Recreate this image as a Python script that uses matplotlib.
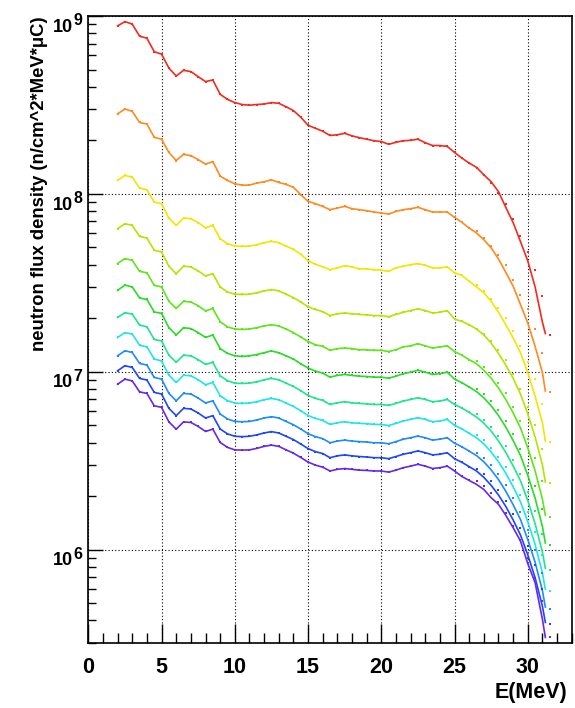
import numpy as np
import matplotlib
matplotlib.use("Agg")
import matplotlib.pyplot as plt
import matplotlib.transforms as mtransforms
from matplotlib.ticker import FixedLocator, NullFormatter

plt.rcParams['font.family'] = ['Liberation Sans', 'DejaVu Sans']
plt.rcParams['font.weight'] = 'bold'

# ---------------- data ----------------
E_line = list(np.arange(2.0, 31.01, 0.5)) + [31.2]   # line vertices
E_pts = list(np.arange(2.0, 31.51, 0.5))              # marker positions

red_line = [8.80e8, 9.30e8, 9.00e8, 7.70e8, 7.50e8, 6.30e8, 6.10e8, 5.10e8, 4.60e8, 4.95e8,
            4.87e8, 4.56e8, 4.28e8, 4.37e8, 3.63e8, 3.40e8, 3.26e8, 3.18e8, 3.15e8, 3.18e8,
            3.20e8, 3.26e8, 3.23e8, 3.09e8, 2.94e8, 2.70e8, 2.43e8, 2.34e8, 2.25e8, 2.13e8,
            2.15e8, 2.19e8, 2.12e8, 2.07e8, 2.03e8, 1.99e8, 1.97e8, 1.90e8, 1.95e8, 1.99e8,
            2.00e8, 2.03e8, 1.94e8, 1.87e8, 1.87e8, 1.85e8, 1.71e8, 1.59e8, 1.49e8,
            1.41e8, 1.28e8, 1.17e8, 1.03e8, 8.4e7, 6.9e7, 5.4e7, 4.2e7, 3.0e7, 1.9e7,
            1.64e7]
red_tail = [1.40e8, 1.28e8, 1.15e8, 1.01e8, 8.73e7, 7.26e7, 5.77e7, 4.69e7, 3.72e7, 2.68e7, 1.61e7]

orange_line = [2.82e8, 3.00e8, 2.91e8, 2.52e8, 2.47e8, 2.08e8, 2.03e8, 1.71e8, 1.54e8, 1.67e8,
               1.64e8, 1.56e8, 1.47e8, 1.52e8, 1.26e8, 1.19e8, 1.14e8, 1.12e8, 1.12e8, 1.15e8,
               1.17e8, 1.20e8, 1.16e8, 1.13e8, 1.09e8, 9.9e7, 9.08e7, 8.81e7, 8.51e7, 8.15e7,
               8.33e7, 8.51e7, 8.26e7, 8.15e7, 8.05e7, 7.91e7, 7.81e7, 7.71e7, 7.97e7, 8.15e7,
               8.26e7, 8.40e7, 8.15e7, 7.91e7, 7.91e7, 7.91e7, 7.38e7, 6.92e7, 6.43e7,
               6.03e7, 5.53e7, 4.97e7, 4.31e7, 3.62e7, 3.03e7, 2.39e7, 1.88e7, 1.39e7, 9.9e6,
               7.8e6]
orange_tail = [6.15e7, 5.65e7, 5.12e7, 4.56e7, 3.97e7, 3.30e7, 2.69e7, 2.24e7, 1.75e7, 1.27e7, 7.68e6]

yellow_line = [1.19e8, 1.27e8, 1.242e8, 1.077e8, 1.056e8, 8.99e7, 8.81e7, 7.31e7, 6.65e7, 7.31e7,
               7.26e7, 6.89e7, 6.46e7, 6.65e7, 5.60e7, 5.25e7, 5.09e7, 5.07e7, 5.09e7, 5.18e7,
               5.32e7, 5.41e7, 5.32e7, 5.09e7, 4.88e7, 4.58e7, 4.22e7, 4.02e7, 3.90e7, 3.75e7,
               3.84e7, 3.95e7, 3.89e7, 3.79e7, 3.79e7, 3.75e7, 3.72e7, 3.67e7, 3.84e7, 3.92e7,
               4.00e7, 4.06e7, 3.97e7, 3.84e7, 3.84e7, 3.89e7, 3.60e7, 3.48e7, 3.23e7,
               3.00e7, 2.78e7, 2.49e7, 2.16e7, 1.84e7, 1.55e7, 1.28e7, 9.9e6, 7.3e6, 5.17e6,
               4.07e6]
yellow_tail = [3.06e7, 2.83e7, 2.57e7, 2.29e7, 2.01e7, 1.69e7, 1.39e7, 1.14e7, 9.06e6, 6.61e6, 4.03e6]

ygreen_line = [6.38e7, 6.80e7, 6.65e7, 5.77e7, 5.65e7, 4.82e7, 4.72e7, 3.92e7, 3.56e7, 3.92e7,
               3.89e7, 3.69e7, 3.46e7, 3.56e7, 3.00e7, 2.81e7, 2.73e7, 2.72e7, 2.73e7, 2.78e7,
               2.85e7, 2.90e7, 2.85e7, 2.73e7, 2.61e7, 2.47e7, 2.32e7, 2.24e7, 2.18e7, 2.07e7,
               2.12e7, 2.14e7, 2.12e7, 2.10e7, 2.09e7, 2.07e7, 2.07e7, 2.04e7, 2.10e7, 2.16e7,
               2.21e7, 2.26e7, 2.21e7, 2.14e7, 2.16e7, 2.21e7, 1.98e7, 1.92e7, 1.84e7,
               1.74e7, 1.61e7, 1.45e7, 1.27e7, 1.09e7, 9.2e6, 7.5e6, 5.8e6, 4.3e6, 3.0e6,
               2.4e6]
ygreen_tail = [1.75e7, 1.63e7, 1.49e7, 1.33e7, 1.17e7, 9.7e6, 8.0e6, 6.3e6, 5.0e6, 3.7e6, 2.38e6]

lime_line = [4.06e7, 4.33e7, 4.23e7, 3.67e7, 3.60e7, 3.06e7, 3.00e7, 2.49e7, 2.27e7, 2.49e7,
             2.47e7, 2.35e7, 2.20e7, 2.27e7, 1.91e7, 1.79e7, 1.74e7, 1.73e7, 1.74e7, 1.77e7,
             1.81e7, 1.84e7, 1.81e7, 1.74e7, 1.66e7, 1.57e7, 1.48e7, 1.42e7, 1.39e7, 1.32e7,
             1.35e7, 1.36e7, 1.35e7, 1.33e7, 1.33e7, 1.32e7, 1.32e7, 1.30e7, 1.33e7, 1.38e7,
             1.40e7, 1.44e7, 1.40e7, 1.36e7, 1.38e7, 1.40e7, 1.30e7, 1.24e7, 1.17e7,
             1.11e7, 1.02e7, 9.20e6, 8.11e6, 6.98e6, 5.88e6, 4.84e6, 3.74e6, 2.78e6, 1.92e6,
             1.56e6]
lime_tail = [1.145e7, 1.069e7, 9.75e6, 8.68e6, 7.57e6, 6.37e6, 5.29e6, 4.21e6, 3.26e6, 2.42e6, 1.52e6]

green_line = [2.87e7, 3.07e7, 3.00e7, 2.60e7, 2.55e7, 2.17e7, 2.13e7, 1.77e7, 1.61e7, 1.77e7,
              1.75e7, 1.66e7, 1.56e7, 1.61e7, 1.35e7, 1.27e7, 1.23e7, 1.22e7, 1.23e7, 1.25e7,
              1.28e7, 1.31e7, 1.28e7, 1.23e7, 1.18e7, 1.11e7, 1.05e7, 1.01e7, 9.83e6, 9.33e6,
              9.54e6, 9.66e6, 9.54e6, 9.45e6, 9.41e6, 9.33e6, 9.33e6, 9.20e6, 9.45e6, 9.76e6,
              9.95e6, 1.02e7, 9.95e6, 9.66e6, 9.76e6, 9.95e6, 9.10e6, 8.69e6, 8.21e6,
              7.74e6, 7.14e6, 6.44e6, 5.68e6, 4.89e6, 4.11e6, 3.39e6, 2.62e6, 1.95e6, 1.35e6,
              1.09e6]
green_tail = [8.02e6, 7.48e6, 6.83e6, 6.08e6, 5.30e6, 4.46e6, 3.70e6, 2.95e6, 2.28e6, 1.69e6, 1.06e6]

spring_line = [2.02e7, 2.15e7, 2.11e7, 1.83e7, 1.79e7, 1.52e7, 1.49e7, 1.24e7, 1.13e7, 1.24e7,
               1.23e7, 1.17e7, 1.10e7, 1.13e7, 9.50e6, 8.91e6, 8.63e6, 8.60e6, 8.63e6, 8.79e6,
               9.02e6, 9.18e6, 9.02e6, 8.63e6, 8.27e6, 7.83e6, 7.36e6, 7.09e6, 6.91e6, 6.55e6,
               6.70e6, 6.79e6, 6.70e6, 6.64e6, 6.61e6, 6.55e6, 6.55e6, 6.47e6, 6.64e6, 6.85e6,
               6.99e6, 7.15e6, 6.99e6, 6.79e6, 6.85e6, 6.99e6, 6.55e6, 6.26e6, 5.91e6,
               5.57e6, 5.14e6, 4.64e6, 4.09e6, 3.52e6, 2.96e6, 2.44e6, 1.89e6, 1.40e6, 9.69e5,
               7.86e5]
spring_tail = [5.77e6, 5.38e6, 4.91e6, 4.38e6, 3.81e6, 3.21e6, 2.67e6, 2.12e6, 1.64e6, 1.22e6, 7.66e5]

cyan_line = [1.56e7, 1.66e7, 1.63e7, 1.41e7, 1.38e7, 1.18e7, 1.15e7, 9.57e6, 8.71e6, 9.57e6,
             9.50e6, 9.02e6, 8.46e6, 8.71e6, 7.34e6, 6.88e6, 6.67e6, 6.64e6, 6.67e6, 6.79e6,
             6.97e6, 7.08e6, 6.97e6, 6.67e6, 6.39e6, 6.04e6, 5.68e6, 5.47e6, 5.33e6, 5.06e6,
             5.17e6, 5.24e6, 5.17e6, 5.13e6, 5.11e6, 5.06e6, 5.06e6, 4.99e6, 5.13e6, 5.29e6,
             5.40e6, 5.52e6, 5.40e6, 5.24e6, 5.29e6, 5.40e6, 5.00e6, 4.78e6, 4.51e6,
             4.26e6, 3.93e6, 3.54e6, 3.12e6, 2.69e6, 2.26e6, 1.86e6, 1.44e6, 1.07e6, 7.40e5,
             6.00e5]
cyan_tail = [4.41e6, 4.11e6, 3.75e6, 3.34e6, 2.91e6, 2.45e6, 2.04e6, 1.62e6, 1.26e6, 9.30e5, 5.85e5]

azure_line = [1.230e7, 1.313e7, 1.284e7, 1.114e7, 1.091e7, 9.29e6, 9.10e6, 7.56e6, 6.87e6, 7.56e6,
              7.50e6, 7.12e6, 6.68e6, 6.87e6, 5.79e6, 5.43e6, 5.26e6, 5.24e6, 5.26e6, 5.36e6,
              5.50e6, 5.59e6, 5.50e6, 5.26e6, 5.04e6, 4.77e6, 4.49e6, 4.32e6, 4.21e6, 3.99e6,
              4.08e6, 4.13e6, 4.08e6, 4.05e6, 4.03e6, 3.99e6, 3.99e6, 3.94e6, 4.05e6, 4.18e6,
              4.26e6, 4.35e6, 4.26e6, 4.13e6, 4.18e6, 4.26e6, 3.97e6, 3.79e6, 3.58e6,
              3.38e6, 3.12e6, 2.81e6, 2.48e6, 2.13e6, 1.79e6, 1.48e6, 1.14e6, 8.50e5, 5.88e5,
              4.76e5]
azure_tail = [3.50e6, 3.26e6, 2.98e6, 2.65e6, 2.31e6, 1.95e6, 1.62e6, 1.29e6, 1.00e6, 7.38e5, 4.64e5]

blue_line = [1.014e7, 1.082e7, 1.058e7, 9.18e6, 8.99e6, 7.66e6, 7.50e6, 6.23e6, 5.67e6, 6.23e6,
             6.18e6, 5.87e6, 5.50e6, 5.67e6, 4.77e6, 4.48e6, 4.34e6, 4.32e6, 4.34e6, 4.42e6,
             4.53e6, 4.61e6, 4.53e6, 4.34e6, 4.16e6, 3.93e6, 3.70e6, 3.56e6, 3.47e6, 3.29e6,
             3.37e6, 3.41e6, 3.37e6, 3.34e6, 3.32e6, 3.29e6, 3.29e6, 3.25e6, 3.34e6, 3.44e6,
             3.51e6, 3.59e6, 3.51e6, 3.41e6, 3.44e6, 3.51e6, 3.25e6, 3.10e6, 2.93e6,
             2.77e6, 2.55e6, 2.30e6, 2.03e6, 1.75e6, 1.47e6, 1.21e6, 9.36e5, 6.96e5, 4.81e5,
             3.90e5]
blue_tail = [2.86e6, 2.67e6, 2.44e6, 2.17e6, 1.89e6, 1.59e6, 1.32e6, 1.05e6, 8.16e5, 6.05e5, 3.81e5]

violet_line = [8.52e6, 9.09e6, 8.89e6, 7.71e6, 7.56e6, 6.44e6, 6.31e6, 5.23e6, 4.76e6, 5.23e6,
               5.19e6, 4.93e6, 4.62e6, 4.76e6, 4.01e6, 3.76e6, 3.64e6, 3.63e6, 3.64e6, 3.71e6,
               3.81e6, 3.87e6, 3.81e6, 3.64e6, 3.49e6, 3.30e6, 3.11e6, 2.99e6, 2.91e6, 2.77e6,
               2.83e6, 2.86e6, 2.83e6, 2.80e6, 2.79e6, 2.77e6, 2.77e6, 2.73e6, 2.80e6, 2.89e6,
               2.95e6, 3.02e6, 2.95e6, 2.86e6, 2.89e6, 2.95e6, 2.77e6, 2.58e6, 2.45e6,
               2.33e6, 2.18e6, 1.96e6, 1.80e6, 1.56e6, 1.33e6, 1.12e6, 8.36e5, 6.53e5, 4.06e5,
               3.21e5]
violet_tail = [2.44e6, 2.28e6, 2.08e6, 1.85e6, 1.61e6, 1.36e6, 1.13e6, 9.00e5, 6.95e5, 5.15e5, 3.24e5]

series = [
    (red_line, red_tail, '#f52a1e'),
    (orange_line, orange_tail, '#ff8a1e'),
    (yellow_line, yellow_tail, '#f2e600'),
    (ygreen_line, ygreen_tail, '#b2e600'),
    (lime_line, lime_tail, '#5ee619'),
    (green_line, green_tail, '#28dc28'),
    (spring_line, spring_tail, '#1ee68c'),
    (cyan_line, cyan_tail, '#1ee6e6'),
    (azure_line, azure_tail, '#1e8cff'),
    (blue_line, blue_tail, '#1e46ff'),
    (violet_line, violet_tail, '#6428f0'),
]

y_decades = [1e6, 1e7, 1e8, 1e9]
y_exponents = ['6', '7', '8', '9']
x_major = [0, 5, 10, 15, 20, 25, 30]

n_flat = 49  # points 2.0 .. 26.0 where markers sit on the line

# ---------------- figure ----------------
fig = plt.figure(figsize=(5.75, 7.08), dpi=100)
ax = fig.add_axes([0.1536, 0.0922, 0.8407, 0.8852])

for line_vals, tail_vals, col in series:
    ax.plot(E_line, line_vals, color=col, lw=1.2, zorder=3)
    pts = list(line_vals[:n_flat]) + list(tail_vals)
    ax.plot(E_pts, pts, ls='none', marker='s', ms=1.9, mew=0, color=col, zorder=4)

ax.set_yscale('log')
ax.set_xlim(0, 33)
ax.set_ylim(3e5, 1e9)

# ticks
ax.xaxis.set_major_locator(FixedLocator(x_major))
ax.xaxis.set_minor_locator(FixedLocator([i for i in range(0, 34) if i % 5 != 0]))
ax.yaxis.set_major_locator(FixedLocator(y_decades))
ax.yaxis.set_major_formatter(NullFormatter())
minor_y = [m * 10.0 ** e for e in range(5, 9) for m in range(2, 10)]
ax.yaxis.set_minor_locator(FixedLocator(minor_y))
ax.yaxis.set_minor_formatter(NullFormatter())

ax.tick_params(axis='x', which='major', direction='in', length=14, width=1.0,
               labelsize=15.5, pad=10, top=False)
ax.tick_params(axis='x', which='minor', direction='in', length=7.2, width=1.0, top=False)
ax.tick_params(axis='y', which='major', direction='in', length=11, width=1.0, right=False)
ax.tick_params(axis='y', which='minor', direction='in', length=5.5, width=1.0, right=False)
for lab in ax.get_xticklabels():
    lab.set_fontweight('bold')

# ROOT-style y tick labels: "10" with a large superscript exponent
blend = mtransforms.blended_transform_factory(ax.transAxes, ax.transData)
base_tr = mtransforms.offset_copy(blend, fig=fig, x=0, y=-11.3, units='points')
sup_tr = mtransforms.offset_copy(blend, fig=fig, x=0, y=-6.4, units='points')
for val, ex in zip(y_decades, y_exponents):
    ax.text(-0.0323, val, '10', transform=base_tr, ha='right', va='baseline',
            fontsize=13, fontweight='bold', clip_on=False)
    ax.text(-0.0302, val, ex, transform=sup_tr, ha='left', va='baseline',
            fontsize=11.5, fontweight='bold', clip_on=False)

ax.grid(True, which='major', color='black', linestyle=(0, (1, 2)), linewidth=0.8)
ax.set_axisbelow(True)
for sp in ax.spines.values():
    sp.set_linewidth(1.2)

ax.set_ylabel('neutron flux density (n/cm^2*MeV*\u03bcC)', fontsize=13.3,
              fontweight='bold', loc='top')
ax.yaxis.set_label_coords(-0.083, 1.0)
ax.set_xlabel('E(MeV)', fontsize=15.5, fontweight='bold', loc='right')
ax.xaxis.set_label_coords(0.99, -0.062)

fig.savefig('out.png', dpi=100)
